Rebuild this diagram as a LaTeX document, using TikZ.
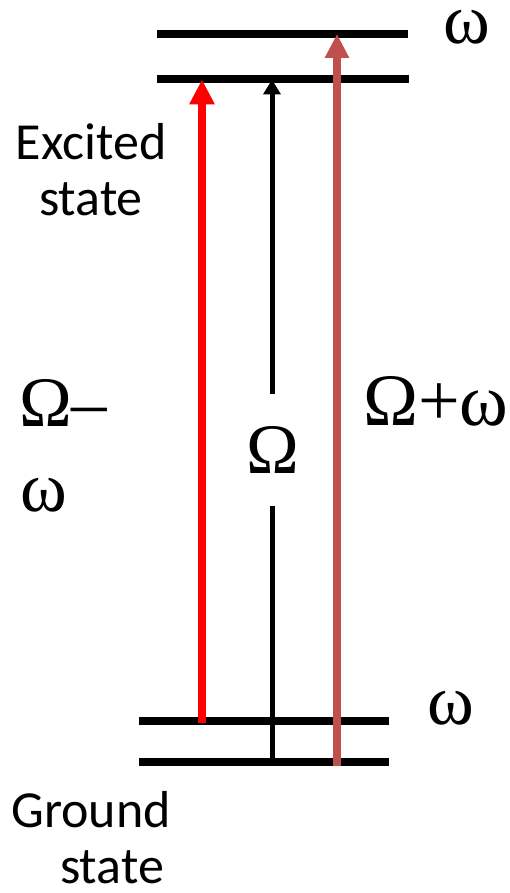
\documentclass[tikz,border=0pt]{standalone}
\usepackage{fontspec}
\setmainfont{Liberation Serif}
\newfontfamily\labfont{Carlito}
\usetikzlibrary{arrows.meta}
\definecolor{brownred}{HTML}{C0504D}
\definecolor{purered}{HTML}{FF0000}
\begin{document}
\begin{tikzpicture}[x=1pt,y=-1pt,
  level/.style={fill=black,inner sep=0,minimum height=8pt,minimum width=#1},
  greek/.style={inner sep=0,anchor=base west,font=\fontsize{71}{84}\selectfont},
  statelabel/.style={inner sep=0,font=\labfont\fontsize{52}{56}\selectfont},
  redarrow/.style={draw=purered,line width=7.5pt,-{Triangle[length=25pt,width=24pt,fill=purered]}},
  brownarrow/.style={draw=brownred,line width=7.5pt,-{Triangle[length=24pt,width=23pt,fill=brownred]}},
  blackarrow/.style={draw=black,line width=5pt},
  blacktip/.style={blackarrow,-{Triangle[length=15pt,width=17pt]}}]
\useasboundingbox (0,0) rectangle (510,893);
% energy levels
\node[level=251pt] (E2) at (282.5,34) {};
\node[level=252pt] (E1) at (283,79.5) {};
\node[level=250pt] (G2) at (264,721) {};
\node[level=250pt] (G1) at (264,762) {};
% x positions of the transitions
\coordinate (xr) at (202,0);
\coordinate (xk) at (272,0);
\coordinate (xb) at (337,0);
\coordinate (rb) at (202,723);
\coordinate (bb) at (337,766);
% state labels
\node[statelabel,align=center,anchor=north] (exc) at (91,123) {Excited\\state};
\node[statelabel,align=left,anchor=north west] (gnd) at (11,791) {Ground\\\hspace*{49pt}state};
% greek labels
\node[greek] (wtop) at (443,44) {ω};
\node[greek] (wbot) at (427,724) {ω};
\node[greek] (om1) at (19,426) {Ω–};
\node[greek] (om1b) at (20,511) {ω};
\node[greek,font=\fontsize{74}{84}\selectfont] (om3) at (363,425) {Ω+ω};
\node[inner sep=0,font=\fontsize{71}{84}\selectfont,minimum height=112pt] (om2) at (273,450) {Ω};
% transitions
\draw[redarrow] (rb) -- (xr |- E1.center);
\draw[blackarrow] (xk |- G1.center) -- (xk |- om2.south);
\draw[blacktip] (xk |- om2.north) -- (xk |- E1.center);
\draw[brownarrow] (bb) -- (xb |- E2.center);
\end{tikzpicture}
\end{document}
